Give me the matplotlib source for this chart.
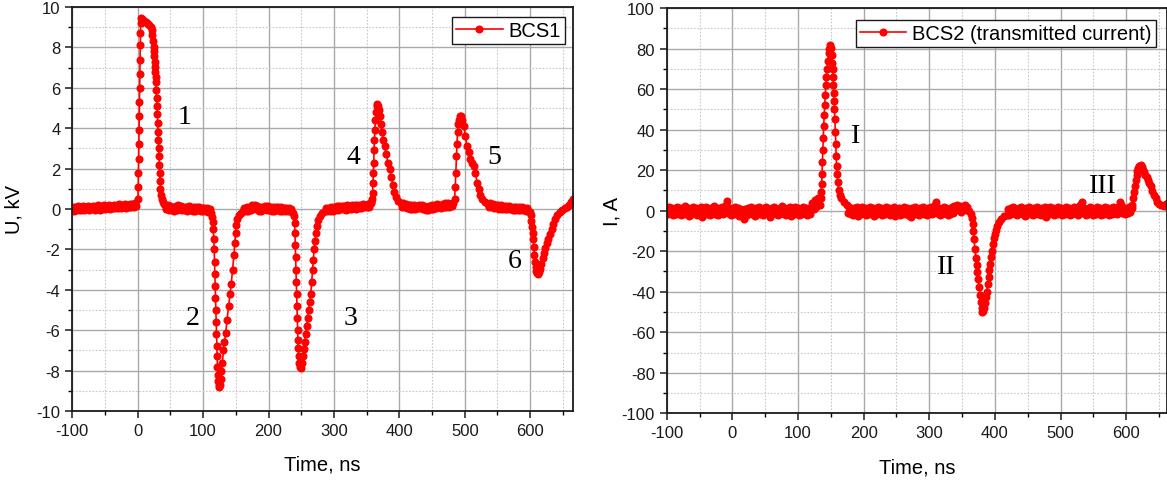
import matplotlib
matplotlib.use("Agg")
import matplotlib.pyplot as plt
from matplotlib.ticker import MultipleLocator

# ---------------- data ----------------
# BCS1 voltage, kV — baseline segments sampled every 2 ns, pulses read point by point
base_a_t = list(range(-100, 0, 2))
base_a_u = [0.10, -0.08, 0.12, -0.05, 0.15, -0.06, 0.10, -0.04, 0.14, -0.07,
            0.12, -0.02, 0.16, -0.05, 0.11, 0.00, 0.17, -0.04, 0.13, 0.01,
            0.18, -0.03, 0.14, 0.02, 0.20, -0.01, 0.16, 0.04, 0.19, 0.00,
            0.17, 0.05, 0.22, 0.03, 0.18, 0.06, 0.23, 0.05, 0.20, 0.08,
            0.25, 0.07, 0.22, 0.10, 0.27, 0.09, 0.24, 0.12, 0.28, 0.15]
pulse1_t = [0.3, 0.8, 1.1, 1.4, 1.7, 2.0, 2.3, 2.6, 2.9, 3.2, 3.5, 3.8, 4.2, 4.7, 5.3,
            6.5, 8, 10, 12, 14, 16, 18, 20, 21.5, 22.5, 23.5, 24.5,
            25, 25.5, 26, 26.5, 27, 27.5, 28, 28.5, 29, 29.5, 30, 30.5, 31, 31.5, 32, 32.5,
            33, 33.5, 34, 34.7, 35.5, 36.5, 38, 40]
pulse1_u = [0.5, 1.1, 1.8, 2.5, 3.2, 3.9, 4.6, 5.3, 6.0, 6.7, 7.4, 8.1, 8.7, 9.2, 9.45,
            9.4, 9.35, 9.3, 9.28, 9.22, 9.18, 9.1, 9.0, 8.85, 8.6, 8.3, 8.0,
            7.8, 7.55, 7.3, 7.05, 6.8, 6.55, 6.3, 5.9, 5.5, 5.1, 4.7, 4.25, 3.8, 3.4, 3.0, 2.6,
            2.2, 1.8, 1.4, 1.0, 0.7, 0.5, 0.35, 0.25]
base_b_t = list(range(42, 112, 2)) + [112, 113.5, 114.5]
base_b_u = [0.22, 0.02, 0.18, -0.05, 0.14, -0.06, 0.12, -0.08, 0.15, -0.04,
            0.20, 0.00, 0.16, -0.07, 0.12, -0.05, 0.10, -0.10, 0.13, -0.06,
            0.10, -0.08, 0.08, -0.12, 0.11, -0.06, 0.08, -0.10, 0.06, -0.12,
            0.05, -0.10, 0.04, -0.14, 0.00, -0.22, -0.4, -0.65]
pulse2_t = [115.5, 116.3, 116.9, 117.4, 117.9, 118.4, 118.9, 119.4, 119.9, 120.4, 120.9,
            121.4, 121.9, 122.4, 123, 123.8, 124.8,
            125.8, 127, 128, 129.5, 131, 132.5, 134.5, 136.5, 139, 141, 143, 145, 147, 148.5,
            149.5, 151, 152.5, 155, 158, 161]
pulse2_u = [-1.0, -1.5, -2.0, -2.6, -3.2, -3.8, -4.4, -5.0, -5.6, -6.2, -6.8,
            -7.3, -7.8, -8.2, -8.5, -8.7, -8.8,
            -8.7, -8.4, -8.0, -7.6, -7.0, -6.6, -6.15, -5.5, -4.8, -4.2, -3.7, -3.0, -2.3, -1.7,
            -1.2, -0.8, -0.5, -0.3, -0.2, -0.1]
base_c_t = list(range(163, 239, 2)) + [238.5]
base_c_u = [0.05, -0.12, 0.08, -0.10, 0.12, -0.04, 0.18, 0.05, 0.22, 0.02,
            0.15, -0.08, 0.10, -0.10, 0.12, -0.02, 0.16, -0.06, 0.14, -0.03,
            0.12, -0.10, 0.09, -0.08, 0.12, -0.06, 0.10, -0.10, 0.08, -0.12,
            0.07, -0.10, 0.06, -0.12, 0.05, -0.10, 0.02, -0.18, -0.35]
pulse3_t = [239.8, 240.4, 240.9, 241.4, 241.9, 242.4, 242.9, 243.4, 243.9, 244.4, 244.9,
            245.4, 246, 246.8, 247.8,
            249.3, 250.8, 252.3, 253.8, 255.3, 256.8, 258.3, 259.8, 261.3, 263, 264.5, 266,
            267.3, 268.5, 269.7, 271, 272.5, 274, 276, 278.5, 282, 286]
pulse3_u = [-0.7, -1.2, -1.8, -2.4, -3.0, -3.6, -4.2, -4.8, -5.4, -6.0, -6.5,
            -6.9, -7.3, -7.6, -7.8,
            -7.85, -7.6, -7.3, -6.95, -6.6, -6.2, -5.8, -5.4, -5.0, -4.6, -4.2, -3.6,
            -3.0, -2.5, -2.0, -1.6, -1.2, -0.85, -0.55, -0.35, -0.2, -0.1]
base_d_t = list(range(288, 357, 2)) + [357.3]
base_d_u = [0.05, -0.12, 0.06, -0.10, 0.10, -0.08, 0.12, -0.06, 0.13, -0.04,
            0.15, -0.02, 0.16, 0.00, 0.14, -0.03, 0.18, 0.02, 0.15, -0.01,
            0.20, 0.04, 0.18, 0.02, 0.22, 0.05, 0.19, 0.06, 0.24, 0.08,
            0.22, 0.09, 0.26, 0.12, 0.28, 0.35]
pulse4_t = [358.2, 359, 359.6, 360.2, 360.8, 361.3, 361.8, 362.5, 363.3, 364.3, 365.3, 366.3,
            367.5, 369, 370.5, 372, 373.5, 375.5, 377.5, 380, 382.5, 385, 387.5, 390, 392.5,
            395, 398, 402]
pulse4_u = [0.5, 0.8, 1.3, 1.8, 2.3, 2.9, 3.4, 3.9, 4.4, 4.8, 5.1, 5.2,
            5.1, 4.9, 4.6, 4.2, 3.8, 3.4, 3.1, 2.7, 2.3, 2.0, 1.6, 1.2, 0.85,
            0.6, 0.4, 0.3]
base_e_t = list(range(404, 483, 2))
base_e_u = [0.12, 0.30, 0.08, 0.26, 0.05, 0.22, 0.02, 0.20, 0.00, 0.18,
            -0.02, 0.16, 0.03, 0.22, 0.05, 0.20, 0.00, 0.15, -0.04, 0.12,
            -0.05, 0.14, 0.00, 0.18, 0.02, 0.20, 0.06, 0.24, 0.08, 0.22,
            0.05, 0.26, 0.10, 0.28, 0.12, 0.30, 0.10, 0.25, 0.14, 0.32]
pulse5_t = [484.5, 485.5, 486.3, 487.2, 488, 489, 490, 491.3, 492.5, 494,
            496, 498.5, 501, 503.5, 506, 508.5, 511, 513.5, 516, 519, 521.5, 524, 527, 531, 535]
pulse5_u = [0.5, 1.1, 1.8, 2.6, 3.2, 3.8, 4.2, 4.4, 4.6, 4.6,
            4.4, 4.1, 3.6, 3.1, 2.8, 2.5, 2.3, 2.15, 1.8, 1.3, 1.0, 0.7, 0.5, 0.35, 0.25]
base_f_t = list(range(537, 600, 2))
base_f_u = [0.10, 0.28, 0.08, 0.25, 0.05, 0.22, 0.04, 0.20, 0.02, 0.18,
            0.00, 0.16, 0.02, 0.15, -0.02, 0.14, 0.00, 0.12, -0.03, 0.12,
            -0.04, 0.10, -0.05, 0.10, -0.06, 0.08, -0.06, 0.06, -0.08, 0.04,
            -0.10, -0.15]
pulse6_t = [600.5, 601.8, 602.8, 603.7, 604.5, 605.5, 606.5, 607.5, 608.5, 609.6, 611, 612.5,
            614, 615.5, 617, 619, 621, 623, 625.5, 628, 630.5, 633, 635.5, 638, 641, 645, 649,
            653, 657, 660, 663, 665.5]
pulse6_u = [-0.3, -0.6, -0.9, -1.2, -1.5, -1.9, -2.3, -2.6, -2.85, -3.05, -3.15, -3.2,
            -3.1, -2.95, -2.7, -2.45, -2.2, -1.95, -1.7, -1.5, -1.25, -1.0, -0.75, -0.5, -0.3,
            -0.15, -0.05, 0.05, 0.1, 0.2, 0.35, 0.5]

# BCS2 transmitted current, A
base_r1_t = list(range(-100, 131, 2))
base_r1_i = [1.5, -1.5, 2.0, -1.0, 1.5, -2.0, 1.0, -1.5, 2.0, -1.0,
             1.5, -2.0, 1.0, -1.5, 2.5, -1.0, 1.5, -2.5, 1.0, -1.5,
             2.0, -1.0, 1.5, -2.0, 1.0, -1.5, 2.0, -3.0, 1.5, -1.0,
             2.0, -1.5, 1.0, -2.0, 1.5, -1.0, 2.5, -1.5, 1.0, -2.0,
             1.5, -1.0, 2.0, -1.5, 1.5, 3.0, 5.0, -1.0, 1.5, -2.0,
             1.0, -1.5, 2.0, -1.0, 1.5, -2.5, 1.0, -2.0, 0.5, -4.0,
             1.0, -2.0, 1.5, -1.0, 2.0, -1.5, 1.0, -2.5, 1.5, -1.0,
             2.0, -1.5, 1.0, -2.0, 1.5, -1.0, 2.0, -1.5, 1.0, -3.0,
             1.5, -1.0, 2.0, -1.5, 1.0, -2.0, 1.5, -1.0, 2.5, -1.5,
             1.0, -2.0, 1.5, -1.0, 2.0, -2.5, 1.0, -1.5, 2.0, -1.0,
             1.5, -2.0, 1.0, -1.5, 2.0, -1.0, 1.5, -2.0, 1.0, -1.5,
             2.0, 4.0, 1.0, 5.5, 2.0, 6.0]
peak1_t = [133, 134.6, 135.3, 136, 136.6, 137.2, 137.8, 138.5, 139.2, 139.8,
           140.6, 141.5, 142.4, 143.3, 144.3, 145.4, 146.6, 147.8, 149.2, 150.4,
           151.5, 152.3, 152.9, 153.5, 154, 154.5, 155, 155.5, 156.2, 157,
           157.6, 158.1, 158.8, 159.6, 160.7, 162, 163.5, 166, 170, 174]
peak1_i = [3, 6, 9, 13, 18, 24, 30, 36, 42, 47,
           52, 57, 62, 66, 70, 74, 78, 80, 81.5, 80.5,
           77, 73, 70, 66, 62, 58, 54, 50, 45, 39,
           33, 27, 22, 18, 14, 10, 7.5, 6, 4.5, 3]
base_r2_t = list(range(176, 361, 2))
base_r2_i = [-1.0, 2.0, -1.5, 1.0, -2.0, 1.5, -1.0, 2.0, -2.5, 1.0,
             -1.5, 2.0, -1.0, 1.5, -2.0, 1.0, -1.5, 2.0, -1.0, 1.5,
             -2.5, 1.0, -1.5, 2.0, -1.0, 1.5, -2.0, 1.0, -1.5, 2.0,
             -1.0, 1.5, -2.0, 1.0, -1.5, 2.0, -2.5, 1.0, -1.0, 1.5,
             -2.0, 1.0, -1.5, 2.0, -1.0, 1.5, -2.0, 1.0, -3.0, 1.5,
             -1.0, 2.0, -1.5, 1.0, -2.0, 1.5, -1.0, 2.0, -1.5, 1.0,
             -2.0, 1.5, -1.0, 2.0, -1.5, 1.0, 3.0, 4.5, -1.0, 1.5,
             -2.0, 1.0, -1.5, 2.0, -1.0, 1.5, -2.0, 1.0, -1.5, 2.0,
             -1.0, 2.5, 1.0, 3.0, 0.5, 2.5, -0.5, 2.0, 1.0, 3.0,
             0.5, 2.0, 0.0]
peak2_t = [363, 364.5, 365.8, 366.9, 368, 369.5, 370.9, 372, 373.3, 374.5,
           375.8, 377.1, 378.3, 379.5, 380.7, 382, 383.5, 385, 386.3, 387.5,
           389, 390.3, 391.6, 392.8, 394.2, 395.5, 396.8, 398, 399.5, 401,
           403, 405.9, 409, 413.7, 418]
peak2_i = [-1.5, -3.5, -6.5, -10, -14, -19, -23.5, -27, -30.5, -33.5,
           -37.5, -41.5, -45, -48, -50, -49.5, -48, -45.5, -42.5, -40,
           -36, -32.5, -29.5, -26.5, -23, -20, -16.5, -13.5, -11.5, -9.5,
           -7.5, -5.5, -4, -2.5, -2]
base_r3_t = list(range(420, 609, 2))
base_r3_i = [1.0, -2.0, 1.5, -1.0, 2.0, -1.5, 1.0, -2.0, 1.5, -1.0,
             2.0, -1.5, 1.0, -2.5, 1.5, -1.0, 2.0, -1.5, 1.0, -2.0,
             1.5, -1.0, 2.0, -1.5, 1.0, -2.0, 1.5, -1.0, 2.0, -3.0,
             1.0, -1.5, 2.0, -1.0, 1.5, -2.0, 1.0, -1.5, 2.0, -1.0,
             1.5, -2.0, 1.0, -1.5, 2.0, -1.0, 1.5, -2.0, 1.0, -1.5,
             2.0, -1.0, 1.5, -2.0, 1.0, 3.0, 4.5, -1.0, 1.5, -2.0,
             1.0, -1.5, 2.0, -1.0, 1.5, -2.0, 1.0, -1.5, 2.0, -1.0,
             1.5, -2.0, 1.0, -1.5, 2.0, -1.0, 1.5, -2.0, 1.0, -1.5,
             2.0, -1.0, 1.5, -1.5, 2.0, 4.5, 3.0, -1.0, 1.5, -1.5,
             1.0, -1.0, 2.0, -0.5, 1.5]
peak3_t = [609.2, 610.5, 611.8, 613, 614.3, 615.6, 617, 618.5, 620, 621.8,
           623.5, 625, 627, 629, 631, 633, 635, 637, 639.5, 642,
           644.5, 647, 650, 653, 657, 660, 663]
peak3_i = [3, 6, 9, 12, 15, 17.5, 19.5, 21, 22, 22.5,
           21.5, 20, 19, 17.5, 16.5, 15, 13.5, 12, 9.5, 7.5,
           6, 4.5, 3.5, 3, 2.5, 3.5, 4]

time_ticks = [-100, 0, 100, 200, 300, 400, 500, 600]
u_ticks = [-10, -8, -6, -4, -2, 0, 2, 4, 6, 8, 10]
i_ticks = [-100, -80, -60, -40, -20, 0, 20, 40, 60, 80, 100]

u_labels = [("1", 72, 4.6), ("2", 84, -5.35), ("3", 326, -5.35),
            ("4", 329, 2.6), ("5", 545, 2.6), ("6", 576, -2.55)]
i_labels = [("I", 188, 37), ("II", 326, -27.5), ("III", 564, 12.5)]

bcs1_time = (base_a_t + pulse1_t + base_b_t + pulse2_t + base_c_t + pulse3_t +
             base_d_t + pulse4_t + base_e_t + pulse5_t + base_f_t + pulse6_t)
bcs1_u = (base_a_u + pulse1_u + base_b_u + pulse2_u + base_c_u + pulse3_u +
          base_d_u + pulse4_u + base_e_u + pulse5_u + base_f_u + pulse6_u)
bcs2_time = base_r1_t + peak1_t + base_r2_t + peak2_t + base_r3_t + peak3_t
bcs2_i = base_r1_i + peak1_i + base_r2_i + peak2_i + base_r3_i + peak3_i

# ---------------- styling ----------------
plt.rcParams['font.family'] = ['Liberation Sans', 'DejaVu Sans']
plt.rcParams['axes.unicode_minus'] = False
RED = '#ff0000'
W, H = 1167, 481

fig = plt.figure(figsize=(W / 100, H / 100), dpi=100)
ax1 = fig.add_axes([72.3 / W, (H - 412) / H, 500.4 / W, 404 / H])
ax2 = fig.add_axes([666.7 / W, (H - 414.3) / H, 500.3 / W, 405.3 / H])


def style(ax, yticks, yminor):
    ax.set_axisbelow(True)
    ax.set_xticks(time_ticks)
    ax.xaxis.set_minor_locator(MultipleLocator(50))
    ax.set_yticks(yticks)
    ax.yaxis.set_minor_locator(MultipleLocator(yminor))
    ax.grid(which='major', color='#a9a9a9', lw=1.0, ls='-')
    ax.grid(which='minor', color='#c8c8c8', lw=0.8, ls=(0, (1.5, 1.5)))
    for s in ax.spines.values():
        s.set_color('#1a1a1a')
        s.set_linewidth(1.3)
    ax.tick_params(which='major', direction='out', length=5, width=1.1,
                   labelsize=12, colors='#1a1a1a', top=False, right=False)
    ax.tick_params(which='minor', direction='out', length=3, width=1.0,
                   top=False, right=False)
    ax.set_xlabel('Time, ns', fontsize=14.5)
    ax.xaxis.set_label_coords(0.5, -0.108)


style(ax1, u_ticks, 1)
style(ax2, i_ticks, 10)

ax1.plot(bcs1_time, bcs1_u, color=RED, lw=1.2, marker='o', ms=4.8,
         mfc=RED, mec=RED, label='BCS1')
ax2.plot(bcs2_time, bcs2_i, color=RED, lw=1.2, marker='o', ms=4.8,
         mfc=RED, mec=RED, label='BCS2 (transmitted current)')

ax1.set_xlim(-100, 665)
ax1.set_ylim(-10, 10)
ax2.set_xlim(-100, 662)
ax2.set_ylim(-100, 100)

ax1.set_ylabel('U, kV', fontsize=14.5)
ax1.yaxis.set_label_coords(-0.097, 0.5)
ax2.set_ylabel('I, A', fontsize=14.5)
ax2.yaxis.set_label_coords(-0.091, 0.5)

for txt, x, y in u_labels:
    ax1.text(x, y, txt, fontsize=20, family=['Liberation Serif'],
             ha='center', va='center')
for txt, x, y in i_labels:
    ax2.text(x, y, txt, fontsize=20, family=['Liberation Serif'],
             ha='center', va='center')

for ax, anchor in ((ax1, (0.9846, 0.9745)), (ax2, (0.9774, 0.971))):
    leg = ax.legend(loc='upper right', bbox_to_anchor=anchor, borderaxespad=0,
                    fontsize=14.5, numpoints=1, handlelength=2.3,
                    handletextpad=0.3, borderpad=0.2, fancybox=False,
                    framealpha=1, edgecolor='#1a1a1a')
    leg.get_frame().set_linewidth(1.0)

fig.savefig('out.png', dpi=100)
